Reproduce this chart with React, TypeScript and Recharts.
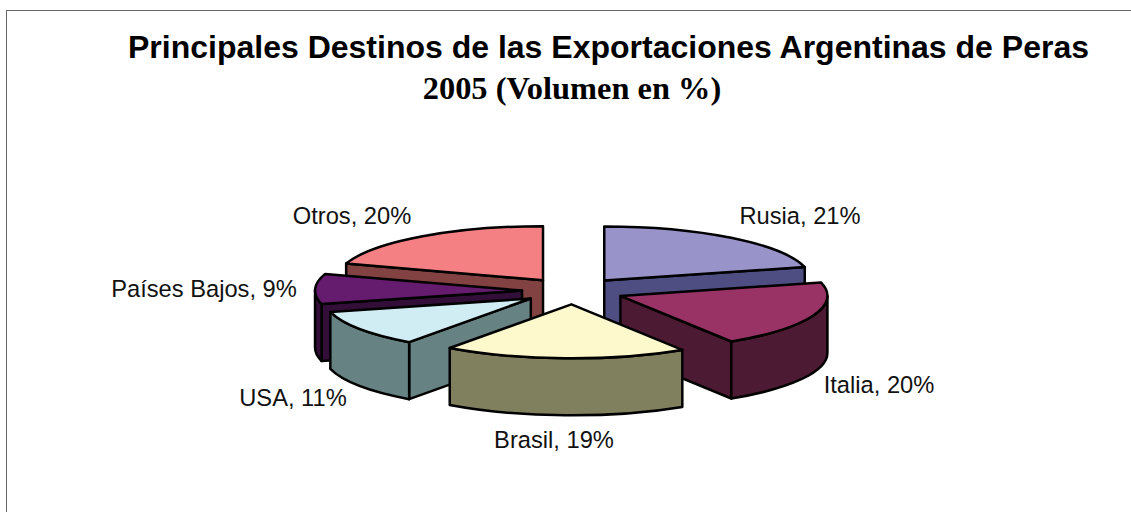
import { PieChart, Pie } from 'recharts';

const names = ['Rusia', 'Italia', 'Brasil', 'USA', 'Países Bajos', 'Otros'];
const values = [21, 20, 19, 11, 9, 20];
const topColors = ['#9894c9', '#993366', '#fdf9cd', '#d0edf3', '#651c6e', '#f58083'];
const wallColors = ['#4e4e82', '#4d1a33', '#80805f', '#668282', '#330e38', '#824242'];
// back slices first so the front ones overlap them
const drawOrder = ['Otros', 'Rusia', 'Países Bajos', 'Italia', 'USA', 'Brasil'];
const labelCenters: Record<string, [number, number]> = {
  Rusia: [800, 224],
  Italia: [879, 393],
  Brasil: [554, 448],
  USA: [293, 406],
  'Países Bajos': [204, 297],
  Otros: [352, 224],
};

const data = names.map((name, i) => ({ name, value: values[i], top: topColors[i], wall: wallColors[i] }));

const SQUASH = 0.261;
const DEPTH = 57;
const EXPLODE = 51;
const RAD = Math.PI / 180;

function Slice3D(props: any) {
  const { cx, cy, outerRadius: r, startAngle, endAngle, midAngle, name, value, top, wall } = props;
  const ry = r * SQUASH;
  const ox = cx + EXPLODE * Math.cos(midAngle * RAD);
  const oy = cy - EXPLODE * SQUASH * Math.sin(midAngle * RAD);
  const px = (a: number) => ox + r * Math.cos(a * RAD);
  const py = (a: number) => oy - ry * Math.sin(a * RAD);
  const cut = (a: number) =>
    `M${ox},${oy} L${px(a)},${py(a)} L${px(a)},${py(a) + DEPTH} L${ox},${oy + DEPTH} Z`;

  // a cut wall is only drawn when it faces the viewer
  const showStart = Math.cos(startAngle * RAD) < -1e-6;
  const showEnd = Math.cos(endAngle * RAD) > 1e-6;

  // outer wall only on the front half of the ellipse
  const wStart = Math.min(startAngle, 0);
  const wEnd = Math.max(endAngle, -180);
  const outer =
    wStart > wEnd
      ? `M${px(wStart)},${py(wStart)} A${r},${ry} 0 0 1 ${px(wEnd)},${py(wEnd)} L${px(wEnd)},${py(wEnd) + DEPTH} A${r},${ry} 0 0 0 ${px(wStart)},${py(wStart) + DEPTH} Z`
      : null;
  const face = `M${ox},${oy} L${px(startAngle)},${py(startAngle)} A${r},${ry} 0 0 1 ${px(endAngle)},${py(endAngle)} Z`;
  const [lx, ly] = labelCenters[name];

  return (
    <g stroke="#000" strokeWidth={2.5} strokeLinejoin="round">
      {showStart && <path d={cut(startAngle)} fill={wall} />}
      {showEnd && <path d={cut(endAngle)} fill={wall} />}
      {outer && <path d={outer} fill={wall} />}
      <path d={face} fill={top} />
      <text
        x={lx}
        y={ly}
        textAnchor="middle"
        stroke="none"
        fill="#111"
        fontSize={23.7}
        fontFamily="'Liberation Sans', Arial, sans-serif"
      >
        {`${name}, ${value}%`}
      </text>
    </g>
  );
}

export default function App() {
  return (
    <div style={{ position: 'absolute', left: 0, top: 0, width: 1131, height: 512, background: '#fff', overflow: 'hidden' }}>
      <div style={{ position: 'absolute', left: 6, top: 10, width: 1200, height: 600, borderLeft: '1px solid #666', borderTop: '1px solid #666' }} />
      <div
        style={{
          position: 'absolute',
          left: 0,
          width: 1217,
          top: 29,
          textAlign: 'center',
          fontFamily: "'Liberation Sans', Arial, sans-serif",
          fontWeight: 'bold',
          fontSize: 32,
          lineHeight: '36px',
          color: '#000',
          whiteSpace: 'nowrap',
        }}
      >
        Principales Destinos de las Exportaciones Argentinas de Peras
      </div>
      <div
        style={{
          position: 'absolute',
          left: 0,
          width: 1144,
          top: 70,
          textAlign: 'center',
          fontFamily: "'Liberation Serif', 'Times New Roman', serif",
          fontWeight: 'bold',
          fontSize: 32.4,
          lineHeight: '36px',
          color: '#000',
          whiteSpace: 'nowrap',
        }}
      >
        2005 (Volumen en %)
      </div>
      <div style={{ position: 'absolute', left: 0, top: 0 }}>
        <PieChart width={1131} height={512} margin={{ top: 0, right: 0, bottom: 0, left: 0 }}>
          {drawOrder.map((layer) => (
            <Pie
              key={layer}
              data={data}
              dataKey="value"
              nameKey="name"
              cx={573}
              cy={291}
              innerRadius={0}
              outerRadius={207}
              startAngle={90}
              endAngle={-270}
              isAnimationActive={false}
              shape={(p: any) => (p.name === layer ? <Slice3D {...p} /> : <g />)}
            />
          ))}
        </PieChart>
      </div>
    </div>
  );
}
